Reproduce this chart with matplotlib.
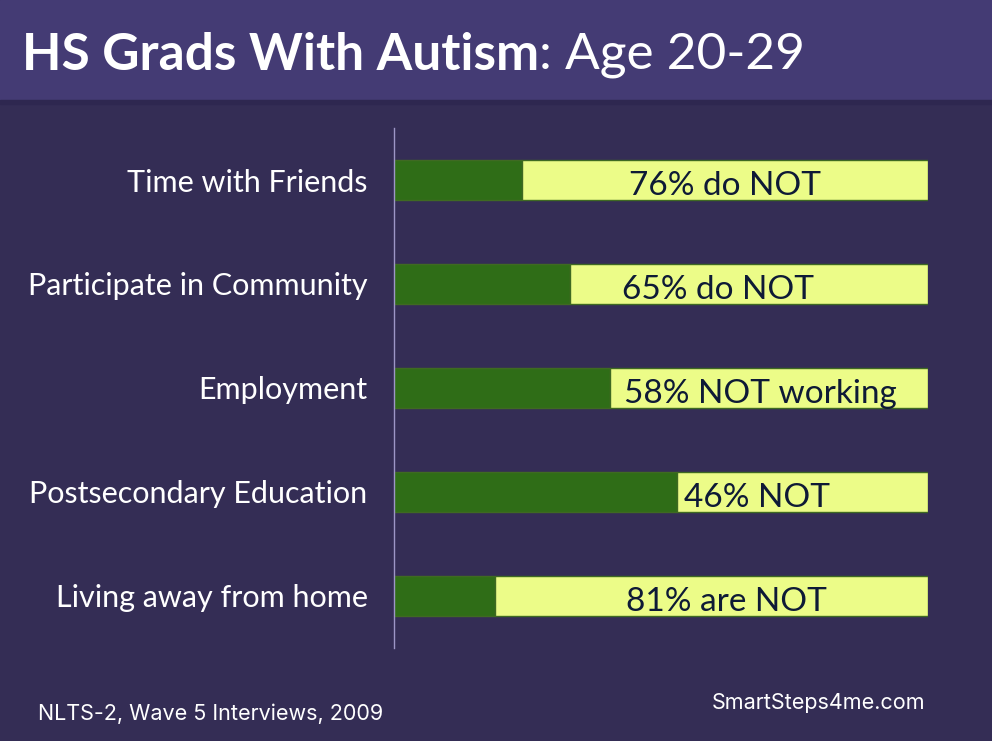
import matplotlib.pyplot as plt
from matplotlib.patches import Rectangle

# categories, top to bottom
categories = ["Time with Friends", "Participate in Community", "Employment",
              "Postsecondary Education", "Living away from home"]
# share that DO (green part)
do_pct = [24, 33, 40.5, 53, 19]
not_labels = ["76% do NOT", "65% do NOT", "58% NOT working", "46% NOT", "81% are NOT"]
# where the label sits in the yellow part (x in axis units)
label_x = [62, 60.7, 68.7, 68, 62.2]

BG = "#342d55"
BAND = "#443b74"
GREEN = "#2f6d17"
YELLOW = "#ecfc88"
EDGE = "#3f6a22"
TXT_DARK = "#0e1a36"

plt.rcParams['font.family'] = ['Lato', 'DejaVu Sans']

fig = plt.figure(figsize=(9.92, 7.41), dpi=100, facecolor=BG)

# title band
fig.patches.append(Rectangle((0, 1 - 100 / 741), 1, 100 / 741, transform=fig.transFigure,
                             color=BAND, zorder=0))
fig.patches.append(Rectangle((0, 1 - 104 / 741), 1, 4 / 741, transform=fig.transFigure,
                             color="#2e2750", zorder=0))

ax = fig.add_axes([394 / 992, 1 - 648 / 741, 534 / 992, 520 / 741])
ax.set_facecolor(BG)

ypos = list(range(len(categories)))
not_pct = [100 - d for d in do_pct]
ax.barh(ypos, do_pct, height=0.39, color=GREEN, edgecolor=EDGE, linewidth=1)
ax.barh(ypos, not_pct, left=do_pct, height=0.39, color=YELLOW, edgecolor=EDGE, linewidth=1)

for y, lab, lx in zip(ypos, not_labels, label_x):
    ax.text(lx, y + 0.06, lab, ha="center", va="center", fontsize=24, color=TXT_DARK)

ax.set_xlim(0, 100)
ax.set_ylim(len(categories) - 0.5, -0.5)
ax.set_yticks(ypos)
ax.set_yticklabels(categories, fontsize=22, color="white")
ax.tick_params(axis="y", length=0, pad=19)
ax.set_xticks([])
for s in ["top", "right", "bottom"]:
    ax.spines[s].set_visible(False)
ax.spines["left"].set_color("#9d96c6")
ax.spines["left"].set_linewidth(1)

# title
t1 = fig.text(22 / 992, 1 - 55 / 741, "HS Grads With Autism", fontsize=37, fontweight="bold",
              color="white", va="center", ha="left")
fig.canvas.draw()
bb = t1.get_window_extent()
fig.text(bb.x1 / 992, 1 - 55 / 741, ": Age 20-29", fontsize=37, color="white",
         va="center", ha="left")

fig.text(38 / 992, 1 - 714 / 741, "NLTS-2, Wave 5 Interviews, 2009", fontsize=15.5,
         color="white", va="center", ha="left", family=['Inter', 'DejaVu Sans'])
fig.text(925 / 992, 1 - 703 / 741, "SmartSteps4me.com", fontsize=15.5,
         color="white", va="center", ha="right", family=['Inter', 'DejaVu Sans'])

fig.savefig("out.png", dpi=100, facecolor=BG)
